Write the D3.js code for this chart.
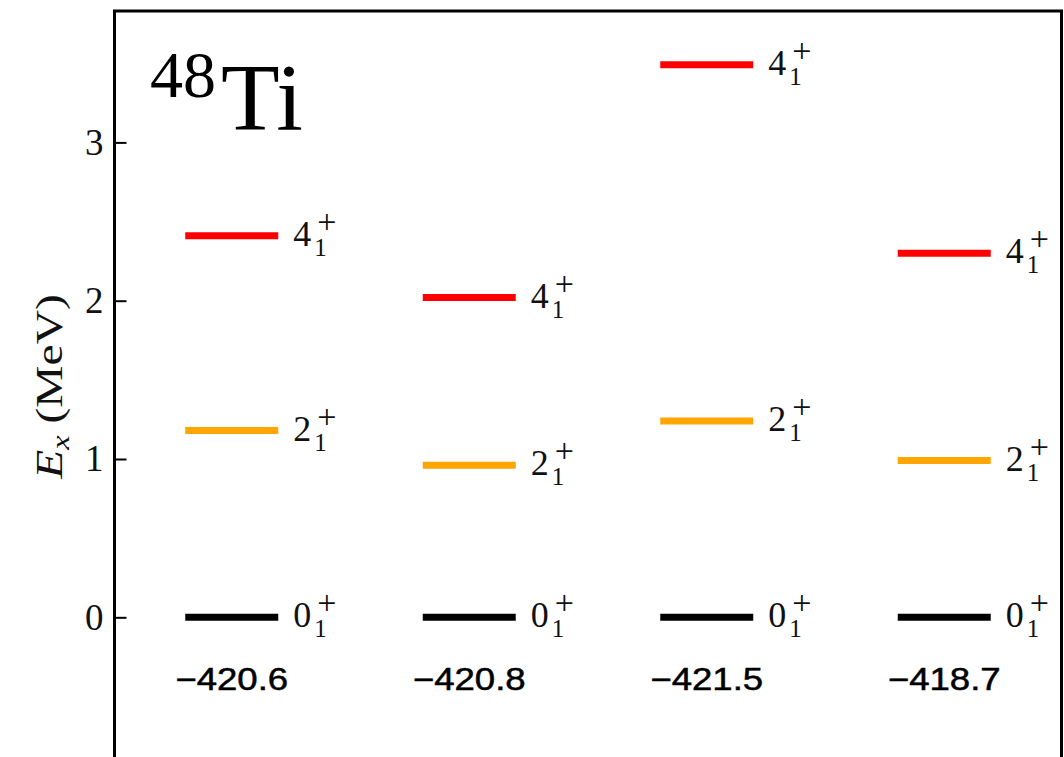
<!DOCTYPE html>
<html lang="en">
<script src='https://d3js.org/d3.v7.min.js'></script>
<head>
    <meta charset="UTF-8">
    <title>48Ti low-lying levels</title>
    <style>
        body { margin: 0; background: #fff; }
        svg { display: block; }
    </style>
</head>
<body onload='init()'>
<svg width=1064 height=757></svg>
<script>
    // ground state energies (MeV) for each calculation, shown under the levels
    var groundEnergies = [-420.6, -420.8, -421.5, -418.7];
    // excitation energies (MeV)
    var ex0 = [0, 0, 0, 0];
    var ex2 = [1.18, 0.96, 1.24, 0.99];
    var ex4 = [2.41, 2.02, 3.49, 2.30];
    var spins = ["0", "2", "4"];
    var yTicks = [0, 1, 2, 3];

    function init() {
        var series = [
            {spin: spins[0], values: ex0, color: "#000000"},
            {spin: spins[1], values: ex2, color: "#ffa500"},
            {spin: spins[2], values: ex4, color: "#ff0000"}
        ];
        drawLevels(series);
    }

    function drawLevels(series) {
        var left = 114.5, right = 1061.5, top = 11, bottom = 759;
        var halfBar = 46.5;
        var serif = "'Liberation Serif', 'Times New Roman', serif";
        var sans = "'Liberation Sans', Arial, sans-serif";

        var svg = d3.select("svg");

        var xs = d3.scalePoint()
            .domain(d3.range(groundEnergies.length))
            .range([113, 1063])
            .padding(0.5);
        var ys = d3.scaleLinear()
            .domain([-0.895, 3.83])
            .range([bottom, top]);

        // level bars
        series.forEach(function(s) {
            svg.append("g")
                .selectAll("line")
                .data(s.values)
                .enter()
                .append("line")
                .attr("x1", (d, i) => xs(i) - halfBar)
                .attr("x2", (d, i) => xs(i) + halfBar)
                .attr("y1", d => ys(d))
                .attr("y2", d => ys(d))
                .attr("stroke", s.color)
                .attr("stroke-width", 7);

            // J^pi labels like 4_1^+ (one text, sub and sup stacked)
            var lab = svg.append("g")
                .selectAll("text")
                .data(s.values)
                .enter()
                .append("text")
                .attr("font-family", serif)
                .attr("fill", "#111")
                .attr("font-size", 36)
                .attr("x", (d, i) => xs(i) + halfBar + 15)
                .attr("y", d => ys(d) + 10);
            lab.append("tspan").text(s.spin);
            lab.append("tspan")
                .attr("font-size", 25)
                .attr("dx", 3)
                .attr("dy", 10)
                .text("1");
            lab.append("tspan")
                .attr("font-size", 34)
                .attr("x", (d, i) => xs(i) + halfBar + 15 + 24)
                .attr("dy", -23)
                .text("+");
        });

        // ground state energies under each column
        svg.append("g")
            .selectAll("text")
            .data(groundEnergies)
            .enter()
            .append("text")
            .attr("transform", (d, i) => "translate(" + xs(i) + "," + ys(-0.46) + ") scale(1.18,1)")
            .attr("text-anchor", "middle")
            .attr("font-family", sans)
            .attr("font-size", 31)
            .attr("fill", "#000")
            .attr("stroke", "#000")
            .attr("stroke-width", 0.5)
            .text(d => d.toFixed(1).replace("-", "\u2212"));

        // y axis with inward ticks
        var yAxis = svg.append("g")
            .attr("transform", "translate(" + left + ",0)")
            .call(d3.axisLeft(ys).tickValues(yTicks).tickSize(-12).tickPadding(11).tickFormat(d3.format("d")));
        yAxis.select(".domain").remove();
        yAxis.selectAll(".tick line").attr("stroke", "#000").attr("stroke-width", 2);
        yAxis.selectAll(".tick text")
            .attr("font-family", serif)
            .attr("font-size", 37)
            .attr("fill", "#111");

        // frame
        svg.append("rect")
            .attr("x", left)
            .attr("y", top)
            .attr("width", right - left)
            .attr("height", bottom - top)
            .attr("fill", "none")
            .attr("stroke", "#000")
            .attr("stroke-width", 3);

        // y label
        var yl = svg.append("text")
            .attr("transform", "translate(62," + ((290 + 483) / 2) + ") rotate(-90) scale(1.25,1)")
            .attr("text-anchor", "middle")
            .attr("font-family", serif)
            .attr("font-size", 38)
            .attr("fill", "#111");
        yl.append("tspan").attr("font-style", "italic").text("E");
        yl.append("tspan").attr("font-style", "italic").attr("font-size", 26).attr("dy", 7).text("x");
        yl.append("tspan").attr("dy", -7).text(" (MeV)");

        // nucleus
        var title = svg.append("text")
            .attr("x", 150)
            .attr("y", 130)
            .attr("font-family", serif)
            .attr("fill", "#000");
        title.append("tspan").attr("font-size", 66).attr("dy", -33).text("48");
        title.append("tspan").attr("font-size", 96).attr("dx", 5).attr("dy", 33).text("Ti");
    }
</script>
</body>
</html>
